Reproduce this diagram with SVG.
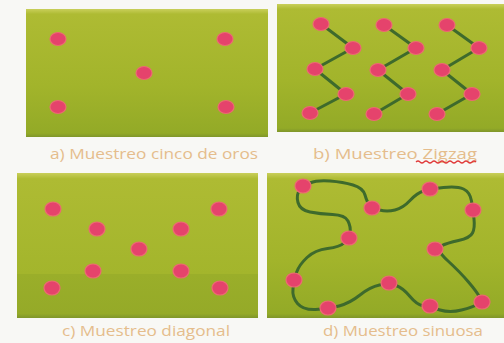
<svg xmlns="http://www.w3.org/2000/svg" width="504" height="343" viewBox="0 0 504 343">
<defs>
<linearGradient id="g" x1="0" y1="0" x2="0" y2="1">
<stop offset="0" stop-color="#c9cf5a"/>
<stop offset="0.04" stop-color="#aebb33"/>
<stop offset="0.6" stop-color="#a2b42b"/>
<stop offset="0.97" stop-color="#93aa27"/>
<stop offset="1" stop-color="#7f962a"/>
</linearGradient>
<linearGradient id="gc" x1="0" y1="0" x2="0" y2="1">
<stop offset="0" stop-color="#c9cf5a"/>
<stop offset="0.04" stop-color="#aebb33"/>
<stop offset="0.7" stop-color="#a3b52c"/>
<stop offset="0.7" stop-color="#9aae2a"/>
<stop offset="0.97" stop-color="#95aa28"/>
<stop offset="1" stop-color="#7f962a"/>
</linearGradient>
</defs>
<style>
.panel{fill:url(#g)}
.dot{fill:#e5436c;stroke:#ec6a72;stroke-width:1.2}
.line{fill:none;stroke:#3e6a2c;stroke-width:3;stroke-linejoin:round;stroke-linecap:round}
.lbl{font-family:"Open Sans","Liberation Sans",sans-serif;font-size:14px;fill:#e5bd8c}
</style>
<rect width="504" height="343" fill="#f8f8f5"/>

<g id="panel-a">
<rect class="panel" x="26" y="9" width="242" height="128"/>
<ellipse class="dot" cx="58" cy="39" rx="8" ry="6.5"/>
<ellipse class="dot" cx="225" cy="39" rx="8" ry="6.5"/>
<ellipse class="dot" cx="144" cy="73" rx="8" ry="6.5"/>
<ellipse class="dot" cx="58" cy="107" rx="8" ry="6.5"/>
<ellipse class="dot" cx="226" cy="107" rx="8" ry="6.5"/>
<text class="lbl" x="50" y="159" textLength="208" lengthAdjust="spacingAndGlyphs">a) Muestreo cinco de oros</text>
</g>

<g id="panel-b">
<rect class="panel" x="277" y="4" width="227" height="128"/>
<g id="connectors-b">
<polyline class="line" points="321,24 353,48 315,69 346,94 310,113"/>
<polyline class="line" points="384,25 416,48 378,70 408,94 374,114"/>
<polyline class="line" points="447,25 479,48 442,70 472,94 437,114"/>
</g>
<ellipse class="dot" cx="321" cy="24" rx="8" ry="6.5"/>
<ellipse class="dot" cx="353" cy="48" rx="8" ry="6.5"/>
<ellipse class="dot" cx="315" cy="69" rx="8" ry="6.5"/>
<ellipse class="dot" cx="346" cy="94" rx="8" ry="6.5"/>
<ellipse class="dot" cx="310" cy="113" rx="8" ry="6.5"/>
<ellipse class="dot" cx="384" cy="25" rx="8" ry="6.5"/>
<ellipse class="dot" cx="416" cy="48" rx="8" ry="6.5"/>
<ellipse class="dot" cx="378" cy="70" rx="8" ry="6.5"/>
<ellipse class="dot" cx="408" cy="94" rx="8" ry="6.5"/>
<ellipse class="dot" cx="374" cy="114" rx="8" ry="6.5"/>
<ellipse class="dot" cx="447" cy="25" rx="8" ry="6.5"/>
<ellipse class="dot" cx="479" cy="48" rx="8" ry="6.5"/>
<ellipse class="dot" cx="442" cy="70" rx="8" ry="6.5"/>
<ellipse class="dot" cx="472" cy="94" rx="8" ry="6.5"/>
<ellipse class="dot" cx="437" cy="114" rx="8" ry="6.5"/>
<text class="lbl" x="313" y="159" textLength="164" lengthAdjust="spacingAndGlyphs">b) Muestreo Zigzag</text>
<path d="M416,162 q2,-2 4,0 t4,0 t4,0 t4,0 t4,0 t4,0 t4,0 t4,0 t4,0 t4,0 t4,0 t4,0 t4,0 t4,0 t4,0" fill="none" stroke="#e03a3a" stroke-width="1.2"/>
</g>

<g id="panel-c">
<rect x="17" y="173" width="241" height="145" fill="url(#gc)"/>
<ellipse class="dot" cx="53" cy="209" rx="8" ry="7"/>
<ellipse class="dot" cx="219" cy="209" rx="8" ry="7"/>
<ellipse class="dot" cx="97" cy="229" rx="8" ry="7"/>
<ellipse class="dot" cx="181" cy="229" rx="8" ry="7"/>
<ellipse class="dot" cx="139" cy="249" rx="8" ry="7"/>
<ellipse class="dot" cx="93" cy="271" rx="8" ry="7"/>
<ellipse class="dot" cx="181" cy="271" rx="8" ry="7"/>
<ellipse class="dot" cx="52" cy="288" rx="8" ry="7"/>
<ellipse class="dot" cx="220" cy="288" rx="8" ry="7"/>
<text class="lbl" x="62" y="336" textLength="168" lengthAdjust="spacingAndGlyphs">c) Muestreo diagonal</text>
</g>

<g id="panel-d">
<rect class="panel" x="267" y="173" width="237" height="145"/>
<g id="connectors-d">
<path class="line" d="M310,183 Q303,186 299.5,190.5 Q296,195 298,202.5 Q300,210 310,212 Q320,214 332.5,214.5 Q345,215 348,221 Q351,227 350,232.5 Q349,238 344.5,242.5 Q340,247 327.5,248.5 Q315,250 307,257.5 Q299,265 296.5,272.5 Q294,280 293,288.5 Q292,297 297.5,303.5 Q303,310 315.5,309.5 Q328,309 339,306 Q350,303 360,295 Q370,287 379.5,285 Q389,283 396,285.5 Q403,288 410,296.5 Q417,305 423.5,306 Q430,307 440,310 Q450,313 461.5,310 Q473,307 477.5,304.5 Q482,302 479.5,297 Q477,292 468.5,282 Q460,272 447.5,260.5 Q435,249 441,246 Q447,243 458.5,240.5 Q470,238 472.5,233 Q475,228 474,219 Q473,210 471.5,201 Q470,192 463.5,189 Q457,186 443.5,187.5 Q430,189 423.5,191 Q417,193 410,200.5 Q403,208 395,210 Q387,212 379.5,210 Q372,208 369.5,205 Q367,202 365,195 Q363,188 353,185 Q343,182 330,181 Q317,180 310,183 Z"/>
</g>
<ellipse class="dot" cx="303" cy="186" rx="8" ry="7"/>
<ellipse class="dot" cx="372" cy="208" rx="8" ry="7"/>
<ellipse class="dot" cx="430" cy="189" rx="8" ry="7"/>
<ellipse class="dot" cx="473" cy="210" rx="8" ry="7"/>
<ellipse class="dot" cx="349" cy="238" rx="8" ry="7"/>
<ellipse class="dot" cx="435" cy="249" rx="8" ry="7"/>
<ellipse class="dot" cx="294" cy="280" rx="8" ry="7"/>
<ellipse class="dot" cx="389" cy="283" rx="8" ry="7"/>
<ellipse class="dot" cx="328" cy="308" rx="8" ry="7"/>
<ellipse class="dot" cx="430" cy="306" rx="8" ry="7"/>
<ellipse class="dot" cx="482" cy="302" rx="8" ry="7"/>
<text class="lbl" x="323" y="336" textLength="160" lengthAdjust="spacingAndGlyphs">d) Muestreo sinuosa</text>
</g>
</svg>
